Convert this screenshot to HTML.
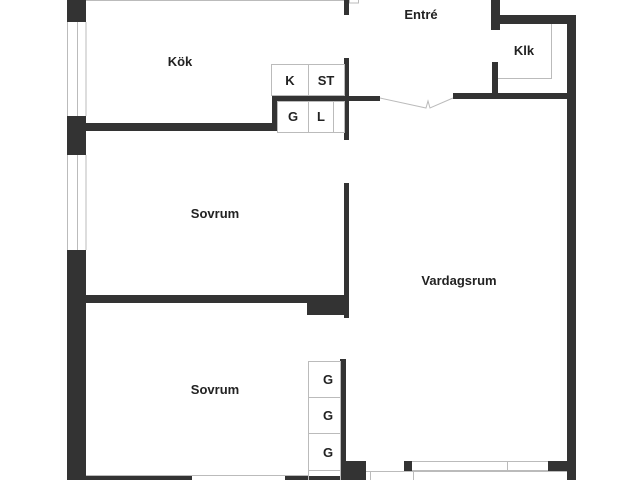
<!DOCTYPE html>
<html><head><style>body{margin:0;background:#fff}svg{display:block}text{font-family:"Liberation Sans",sans-serif;font-weight:bold;font-size:13px;fill:#222;text-anchor:middle}</style></head>
<body>
<svg width="640" height="480" viewBox="0 0 640 480">
<g fill="#333">
<!-- left outer wall -->
<rect x="67" y="0" width="19" height="22"/>
<rect x="67" y="116" width="19" height="39"/>
<rect x="67" y="250" width="19" height="230"/>
<!-- kitchen bottom wall -->
<rect x="86" y="123" width="191" height="8"/>
<rect x="272" y="96" width="5" height="35"/>
<rect x="272" y="96" width="108" height="5"/>
<rect x="344" y="0" width="5" height="15"/>
<rect x="344" y="58" width="5" height="82"/>
<!-- entry right walls -->
<rect x="453" y="93" width="123" height="6"/>
<rect x="491" y="0" width="9" height="30"/>
<rect x="492" y="62" width="6" height="34"/>
<rect x="492" y="15" width="84" height="9"/>
<rect x="567" y="15" width="9" height="465"/>
<!-- sovrum 1 -->
<rect x="86" y="295" width="259" height="8"/>
<rect x="307" y="295" width="38" height="20"/>
<rect x="344" y="183" width="5" height="135"/>
<!-- sovrum 2 -->
<rect x="340" y="359" width="6" height="121"/>
<rect x="86" y="476" width="106" height="4"/>
<rect x="285" y="476" width="55" height="4"/>
<rect x="346" y="461" width="20" height="19"/>
<rect x="404" y="461" width="8" height="10"/>
<rect x="548" y="461" width="19" height="10"/>
</g>
<g fill="none" stroke="#bbb" stroke-width="1">
<line x1="86" y1="0.5" x2="344" y2="0.5"/>
<rect x="349.5" y="-1" width="9" height="4"/>
<line x1="67.5" y1="22" x2="67.5" y2="116"/><line x1="77.5" y1="22" x2="77.5" y2="116"/><line x1="86" y1="22" x2="86" y2="116"/>
<line x1="67.5" y1="155" x2="67.5" y2="250"/><line x1="77.5" y1="155" x2="77.5" y2="250"/><line x1="86" y1="155" x2="86" y2="250"/>
<rect x="271.5" y="64.5" width="73" height="31"/><line x1="308.5" y1="64" x2="308.5" y2="96"/>
<rect x="277.5" y="101.5" width="67" height="31"/><line x1="308.5" y1="101" x2="308.5" y2="132"/><line x1="333.5" y1="101" x2="333.5" y2="132"/>
<polyline points="380,98 426,108 428,101 430,108 453,98"/>
<polyline points="551.5,24 551.5,78.5 498,78.5"/>
<rect x="308.5" y="361.5" width="32" height="120"/>
<line x1="308" y1="397.5" x2="340" y2="397.5"/><line x1="308" y1="433.5" x2="340" y2="433.5"/><line x1="308" y1="470.5" x2="340" y2="470.5"/>
<line x1="86" y1="475.5" x2="308" y2="475.5"/>
<line x1="412" y1="461.5" x2="548" y2="461.5"/><line x1="412" y1="470.5" x2="548" y2="470.5"/><line x1="507.5" y1="461" x2="507.5" y2="471"/>
<line x1="366" y1="471.5" x2="567" y2="471.5"/><line x1="370.5" y1="471" x2="370.5" y2="480"/><line x1="413.5" y1="471" x2="413.5" y2="480"/>
</g>
<text x="421" y="19">Entré</text>
<text x="180" y="66">Kök</text>
<text x="524" y="55">Klk</text>
<text x="290" y="85">K</text><text x="326" y="85">ST</text>
<text x="293" y="121">G</text><text x="321" y="121">L</text>
<text x="215" y="218">Sovrum</text>
<text x="215" y="394">Sovrum</text>
<text x="459" y="285">Vardagsrum</text>
<text x="328" y="384">G</text><text x="328" y="420">G</text><text x="328" y="457">G</text>
</svg>
</body></html>
